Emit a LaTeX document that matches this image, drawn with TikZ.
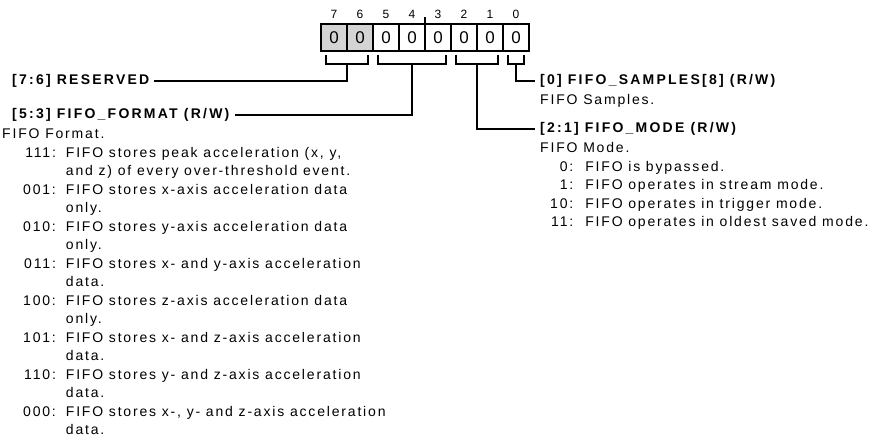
\documentclass[tikz,border=0pt]{standalone}
\usepackage{fontspec}
\setmainfont{Liberation Sans}[LetterSpace=13]
\newfontfamily\headfont{Liberation Sans}[LetterSpace=16]
\usetikzlibrary{positioning}

\tikzset{
  bitcell/.style={draw,line width=1.6pt,minimum width=26pt,minimum height=27pt,
    inner sep=0pt,outer sep=0pt,font=\fontsize{17}{17}\selectfont},
  rsvdcell/.style={bitcell,fill=black!17},
  bitnum/.style={inner sep=0pt,font=\fontsize{12}{12}\selectfont},
  brace/.style={line width=1.6pt},
  head/.style={inner ysep=0pt,inner xsep=5pt,font=\headfont\bfseries\fontsize{14}{16}\selectfont},
  desc/.style={inner sep=0pt,font=\fontsize{14}{18.5}\selectfont}
}

\begin{document}
\begin{tikzpicture}[x=1pt,y=-1pt]
\useasboundingbox (0,0) rectangle (886,438);
% register cells, bit 7 down to bit 0
\node[rsvdcell] (b7) at (334,37.5) {0};
\node[rsvdcell,right=0pt of b7] (b6) {0};
\node[bitcell,right=0pt of b6] (b5) {0};
\node[bitcell,right=0pt of b5] (b4) {0};
\node[bitcell,right=0pt of b4] (b3) {0};
\node[bitcell,right=0pt of b3] (b2) {0};
\node[bitcell,right=0pt of b2] (b1) {0};
\node[bitcell,right=0pt of b1] (b0) {0};
\node[bitnum,above=5pt of b7] (n7) {7};
\node[bitnum,above=5pt of b6] (n6) {6};
\node[bitnum,above=5pt of b5] (n5) {5};
\node[bitnum,above=5pt of b4] (n4) {4};
\node[bitnum,above=5pt of b3] (n3) {3};
\node[bitnum,above=5pt of b2] (n2) {2};
\node[bitnum,above=5pt of b1] (n1) {1};
\node[bitnum,above=5pt of b0] (n0) {0};
\draw[brace] (b4.north east) -- ++(0,-7);

% brackets under the fields
\draw[brace] (326,55) -- (326,64) -- (368,64) -- (368,55);
\draw[brace] (378,55) -- (378,64) -- (446,64) -- (446,55);
\draw[brace] (456,55) -- (456,64) -- (498,64) -- (498,55);
\draw[brace] (508,55) -- (508,64) -- (524,64) -- (524,55);
\coordinate (s76) at (347,64);
\coordinate (s53) at (412,64);
\coordinate (s21) at (477,64);
\coordinate (s0) at (516,64);

% field names
\node[head,anchor=west] (rsvd) at (7,81) {[7:6] RESERVED};
\node[head,anchor=west] (fmt) at (7,115) {[5:3] FIFO\_FORMAT (R/W)};
\node[head,anchor=west] (smp) at (535,81) {[0] FIFO\_SAMPLES[8] (R/W)};
\node[head,anchor=west] (mode) at (535,129) {[2:1] FIFO\_MODE (R/W)};
\draw[brace] (s76) |- (rsvd.east);
\draw[brace] (s53) |- (fmt.east);
\draw[brace] (s0) |- (smp.west);
\draw[brace] (s21) |- (mode.west);

% descriptions
\node[desc,anchor=base west] (fmtdesc) at (2,139) {FIFO Format.};
\node[desc,anchor=base west] (fmtlist) at (23,157.5) {%
\begin{tabular}[t]{@{}r@{\hspace{10pt}}l@{}}
111: & FIFO stores peak acceleration (x, y,\\
 & and z) of every over-threshold event.\\
001: & FIFO stores x-axis acceleration data\\
 & only.\\
010: & FIFO stores y-axis acceleration data\\
 & only.\\
011: & FIFO stores x- and y-axis acceleration\\
 & data.\\
100: & FIFO stores z-axis acceleration data\\
 & only.\\
101: & FIFO stores x- and z-axis acceleration\\
 & data.\\
110: & FIFO stores y- and z-axis acceleration\\
 & data.\\
000: & FIFO stores x-, y- and z-axis acceleration\\
 & data.
\end{tabular}};
\node[desc,anchor=base west] (smpdesc) at (540,105) {FIFO Samples.};
\node[desc,anchor=base west] (modedesc) at (540,153) {FIFO Mode.};
\node[desc,anchor=base west] (modelist) at (550,171.5) {%
\begin{tabular}[t]{@{}r@{\hspace{12pt}}l@{}}
0: & FIFO is bypassed.\\
1: & FIFO operates in stream mode.\\
10: & FIFO operates in trigger mode.\\
11: & FIFO operates in oldest saved mode.
\end{tabular}};
\end{tikzpicture}
\end{document}
